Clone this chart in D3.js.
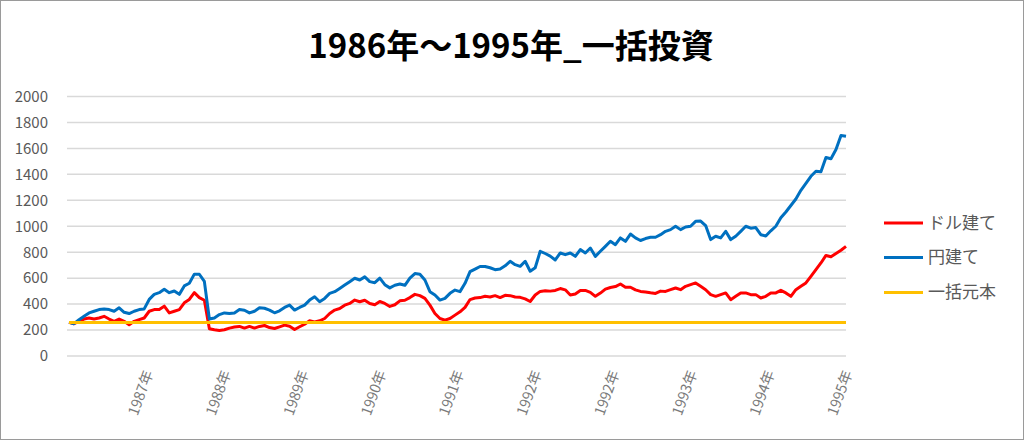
<!DOCTYPE html>
<html>
<head>
<meta charset="utf-8">
<script src="https://cdn.jsdelivr.net/npm/d3@7/dist/d3.min.js"></script>
<style>
  html, body { margin: 0; padding: 0; background: #fff; }
  svg { display: block; }
  text { font-family: "Noto Sans CJK JP", "Noto Sans", sans-serif; }
</style>
</head>
<body>
<svg id="chart" width="1024" height="440"></svg>
<script>
const titleText = "1986年～1995年_一括投資";
const seriesNames = ["ドル建て", "円建て", "一括元本"];
const seriesColors = ["#FF0000", "#0070C0", "#FFC000"];
const tickLabels = ["1987年","1988年","1989年","1990年","1991年","1992年","1992年","1993年","1994年","1995年"];
const yTicks = [0,200,400,600,800,1000,1200,1400,1600,1800,2000];

// ドル建て (red)
const dollarBased = [
  259, 249, 267, 285, 293, 285, 293, 306, 285, 267,
  285, 267, 241, 267, 280, 293, 345, 358, 358, 384,
  332, 345, 358, 410, 436, 488, 450, 430, 210, 202,
  197, 202, 215, 223, 228, 215, 228, 215, 228, 235,
  219, 212, 225, 238, 230, 204, 225, 245, 271, 263,
  271, 289, 328, 354, 366, 392, 405, 431, 418, 430,
  405, 395, 420, 405, 382, 395, 425, 430, 450, 475,
  465, 444, 392, 328, 289, 276, 289, 315, 341, 375,
  435, 447, 450, 460, 455, 465, 450, 468, 465, 455,
  452, 440, 420, 470, 498, 502, 500, 505, 520, 510,
  470, 478, 505, 505, 490, 460, 485, 515, 528, 535,
  555, 530, 530, 510, 498, 494, 487, 482, 500, 498,
  511, 524, 511, 537, 550, 563, 537, 511, 473, 460,
  473, 486, 434, 460, 486, 486, 473, 473, 447, 460,
  486, 486, 506, 486, 460, 511, 537, 563, 614, 666,
  717, 775, 765, 790, 815, 845
];

// 円建て (blue)
const yenBased = [
  259, 249, 280, 306, 332, 345, 358, 363, 358, 345,
  371, 337, 327, 345, 358, 363, 436, 475, 488, 514,
  488, 501, 475, 540, 561, 631, 630, 575, 285, 293,
  319, 332, 327, 332, 358, 353, 332, 345, 371, 368,
  354, 333, 348, 374, 392, 354, 374, 392, 431, 457,
  418, 444, 483, 496, 521, 547, 573, 599, 586, 610,
  573, 565, 600, 550, 525, 545, 555, 545, 600, 635,
  630, 586, 496, 470, 431, 444, 483, 508, 496, 560,
  650, 670, 690, 690, 680, 665, 670, 695, 730, 704,
  691, 730, 653, 680, 807, 790, 770, 740, 794, 781,
  794, 768, 820, 794, 832, 768, 807, 845, 884, 858,
  910, 884, 940, 910, 890, 905, 915, 915, 935, 961,
  974, 1000, 974, 994, 1000, 1038, 1040, 1005, 897, 923,
  910, 961, 897, 923, 961, 1000, 985, 990, 935, 925,
  965, 1000, 1065, 1110, 1160, 1210, 1277, 1330, 1385, 1424,
  1420, 1530, 1520, 1591, 1700, 1694
];

// 一括元本 (yellow) – flat principal, first and last point
const principal = [258, 258];

const svg = d3.select("#chart");
const W = 1024, H = 440;

svg.append("rect")
  .attr("x", 0.5).attr("y", 0.5).attr("width", W - 1).attr("height", H - 1)
  .attr("fill", "#fff").attr("stroke", "#9a9a9a").attr("stroke-width", 1);

const n = yenBased.length;
const x = d3.scaleLinear().domain([0, n - 1]).range([69, 846]);
const y = d3.scaleLinear().domain([0, 2000]).range([356, 96.5]);

// gridlines
svg.append("g").selectAll("line").data(yTicks).join("line")
  .attr("x1", 67).attr("x2", 846)
  .attr("y1", d => y(d)).attr("y2", d => y(d))
  .attr("stroke", "#d9d9d9").attr("stroke-width", 1.5);

// y axis labels
const yAxis = d3.axisLeft(y).tickValues(yTicks).tickFormat(d3.format("d")).tickSize(0).tickPadding(0);
const gy = svg.append("g").attr("transform", "translate(48,0)").call(yAxis);
gy.select(".domain").remove();
gy.selectAll("text")
  .attr("fill", "#595959").style("font-size", "15px")
  .style("font-family", "'Noto Sans CJK JP', 'Noto Sans', sans-serif");

// x labels
const tickIdx = tickLabels.map((t, k) => (n - 1) * (k + 1) / tickLabels.length);
svg.append("g").selectAll("text").data(tickLabels).join("text")
  .attr("transform", (d, k) => `translate(${x(tickIdx[k]) + 2},371) rotate(-70)`)
  .attr("text-anchor", "end")
  .attr("dy", "0.35em")
  .attr("fill", "#7a7a7a")
  .style("font-size", "14.5px")
  .text(d => d);

// lines
const line = d3.line().x((d, i) => x(i)).y(d => y(d));
svg.append("path").datum(dollarBased)
  .attr("d", line).attr("fill", "none")
  .attr("stroke", seriesColors[0]).attr("stroke-width", 3)
  .attr("stroke-linejoin", "round");
svg.append("path").datum(yenBased)
  .attr("d", line).attr("fill", "none")
  .attr("stroke", seriesColors[1]).attr("stroke-width", 3)
  .attr("stroke-linejoin", "round");
const pLine = d3.line().x((d, i) => x(i * (n - 1) / (principal.length - 1))).y(d => y(d));
svg.append("path").datum(principal)
  .attr("d", pLine).attr("fill", "none")
  .attr("stroke", seriesColors[2]).attr("stroke-width", 3);

// title
svg.append("text")
  .attr("x", 511).attr("y", 58)
  .attr("text-anchor", "middle")
  .style("font-size", "33px").style("font-weight", "bold")
  .attr("fill", "#000")
  .text(titleText);

// legend
const lg = svg.append("g");
const legY = [223, 257.5, 292.5];
seriesNames.forEach((name, k) => {
  lg.append("line")
    .attr("x1", 884).attr("x2", 923)
    .attr("y1", legY[k]).attr("y2", legY[k])
    .attr("stroke", seriesColors[k]).attr("stroke-width", 3);
  lg.append("text")
    .attr("x", 928).attr("y", legY[k])
    .attr("dy", "0.35em")
    .attr("fill", "#595959")
    .style("font-size", "17px")
    .text(name);
});
</script>
</body>
</html>
